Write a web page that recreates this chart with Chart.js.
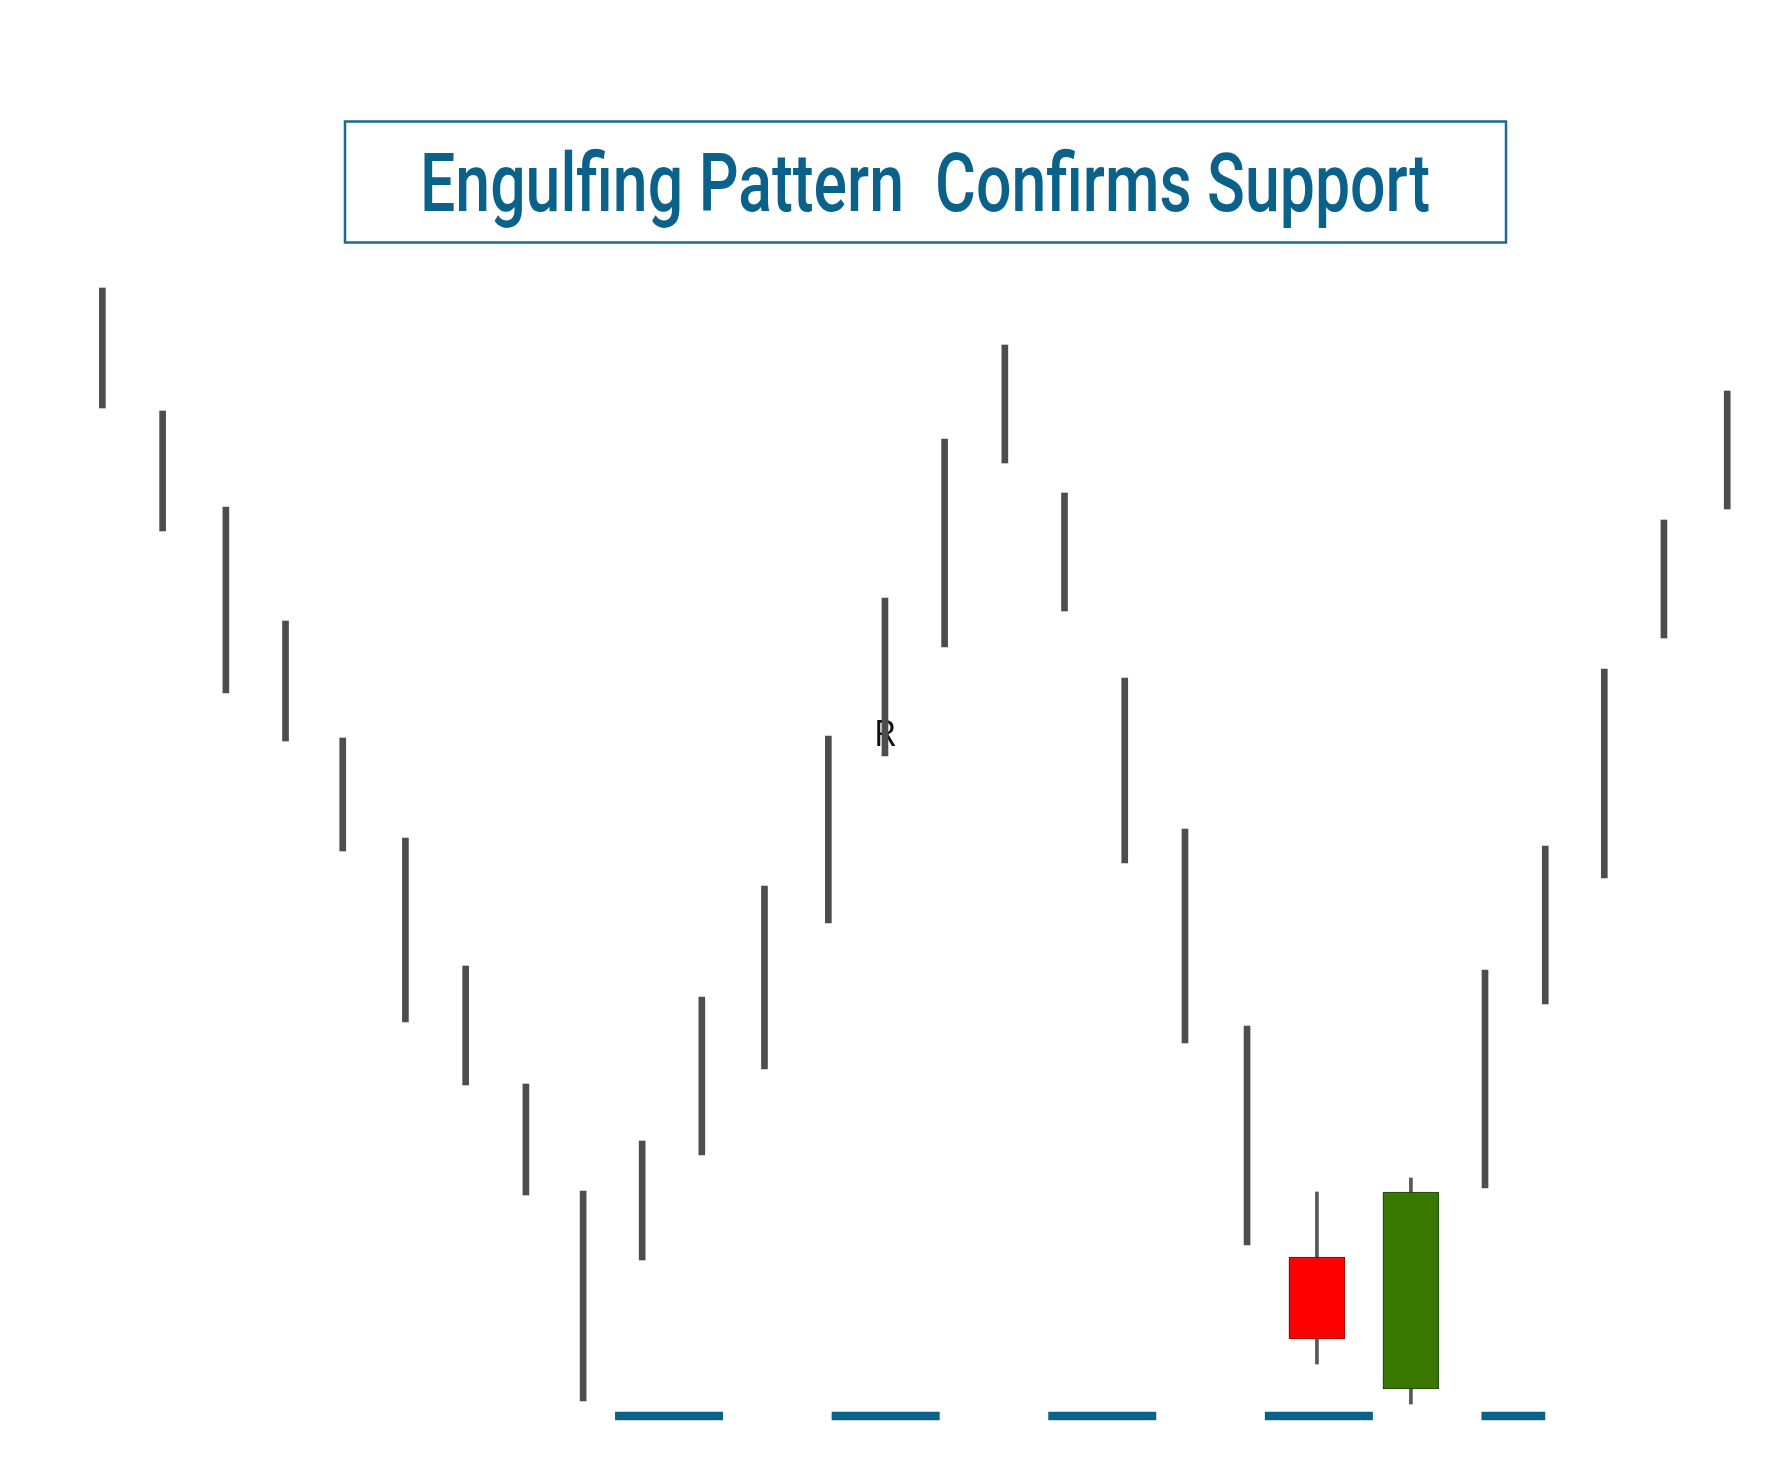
<!DOCTYPE html>
<html>
<head>
<meta charset="utf-8">
<title>Engulfing Pattern Confirms Support</title>
<script src="https://cdn.jsdelivr.net/npm/chart.js@4.4.1/dist/chart.umd.min.js"></script>
<style>
    html, body { margin: 0; padding: 0; background: #ffffff; }
    #wrap { width: 1776px; height: 1476px; }
</style>
</head>
<body>
<div id="wrap"><canvas id="patternChart" width="1776" height="1476"></canvas></div>
<script>
// Plain price bars (x position, high, low)
const barX    = [1.0, 2.0, 3.05, 4.04, 4.99, 6.03, 7.03, 8.03, 8.98, 9.96, 10.95, 11.99, 13.05, 13.99, 14.98, 15.98, 16.97, 17.97, 18.97, 20.0, 23.95, 24.95, 25.93, 26.92, 27.97];
const barHigh = [114.2, 101.9, 92.3, 80.9, 69.2, 59.2, 46.4, 34.6, 23.9, 28.9, 43.3, 54.4, 69.4, 83.2, 99.1, 108.5, 93.7, 75.2, 60.1, 40.4, 46.0, 58.4, 76.1, 91.0, 103.9];
const barLow  = [102.2, 89.9, 73.7, 68.9, 57.9, 40.8, 34.5, 23.5, 2.9, 17.0, 27.5, 36.1, 50.7, 67.4, 78.3, 96.7, 81.9, 56.7, 38.7, 18.5, 24.2, 42.6, 55.2, 79.2, 92.1];

// The engulfing pair
const candleX     = [21.16, 22.72];
const candleOpen  = [17.3, 4.1];
const candleClose = [9.1, 23.8];
const candleHigh  = [23.8, 25.2];
const candleLow   = [6.6, 2.6];

// Support line
const supportLevel = 1.4;
const supportFrom = 9.51;
const supportTo = 24.95;

// Marker label
const labelText = 'R';
const labelX = 13.99;
const labelY = 68.4;

const titleText = 'Engulfing Pattern  Confirms Support';

const BLUE = '#0a628b';

// Title box + text drawn on the canvas
const titlePlugin = {
    id: 'titleBox',
    afterDraw(chart) {
        const ctx = chart.ctx;
        ctx.save();
        ctx.strokeStyle = '#1b6a92';
        ctx.lineWidth = 2.5;
        ctx.strokeRect(345, 121.5, 1161, 121);

        // condensed look: squeeze a normal sans horizontally
        ctx.font = '500 82px Roboto';
        ctx.fillStyle = BLUE;
        ctx.textBaseline = 'alphabetic';
        const w = ctx.measureText(titleText).width;
        const sx = 1010 / w;
        ctx.translate(925, 211);
        ctx.scale(sx, 1);
        ctx.textAlign = 'center';
        ctx.fillText(titleText, 0, 0);
        ctx.restore();
    }
};

// "R" marker, under the bars
const labelPlugin = {
    id: 'markLabel',
    beforeDatasetsDraw(chart) {
        const ctx = chart.ctx;
        const px = chart.scales.x.getPixelForValue(labelX);
        const py = chart.scales.y.getPixelForValue(labelY);
        ctx.save();
        ctx.font = '36px "Open Sans"';
        ctx.fillStyle = '#111111';
        ctx.textAlign = 'center';
        ctx.textBaseline = 'alphabetic';
        ctx.fillText(labelText, px, py);
        ctx.restore();
    }
};

function initChart() {
    const ctx = document.getElementById('patternChart').getContext('2d');

    const bars = barX.map((x, i) => ({ x: x, y: [barLow[i], barHigh[i]] }));
    const bodies = candleX.map((x, i) => ({ x: x, y: [candleOpen[i], candleClose[i]] }));
    const wicks = candleX.map((x, i) => ({ x: x, y: [candleLow[i], candleHigh[i]] }));

    new Chart(ctx, {
        type: 'bar',
        data: {
            datasets: [
                {
                    label: 'Bars',
                    data: bars,
                    backgroundColor: '#4d4d4d',
                    borderWidth: 0,
                    barThickness: 6,
                    grouped: false
                },
                {
                    label: 'Candle bodies',
                    data: bodies,
                    backgroundColor: ['#ff0000', '#397800'],
                    borderColor: ['#a80000', '#264f06'],
                    borderWidth: 1.5,
                    borderSkipped: false,
                    barThickness: 56,
                    grouped: false
                },
                {
                    label: 'Candle wicks',
                    data: wicks,
                    backgroundColor: '#575757',
                    borderWidth: 0,
                    barThickness: 3,
                    grouped: false
                },
                {
                    type: 'line',
                    label: 'Support',
                    data: [{ x: supportFrom, y: supportLevel }, { x: supportTo, y: supportLevel }],
                    borderColor: BLUE,
                    borderWidth: 8.5,
                    borderDash: [108, 108.6],
                    borderCapStyle: 'butt',
                    pointRadius: 0,
                    fill: false
                }
            ]
        },
        options: {
            responsive: false,
            devicePixelRatio: 1,
            animation: false,
            layout: {
                padding: { left: 12, right: 0, top: 270, bottom: 46 }
            },
            plugins: {
                legend: { display: false },
                tooltip: { enabled: false },
                title: { display: false }
            },
            scales: {
                x: { type: 'linear', display: false, offset: false, min: -0.5, max: 28.78 },
                y: { display: false, min: 0, max: 116 }
            }
        },
        plugins: [labelPlugin, titlePlugin]
    });
}

document.addEventListener('DOMContentLoaded', initChart);
</script>
</body>
</html>
